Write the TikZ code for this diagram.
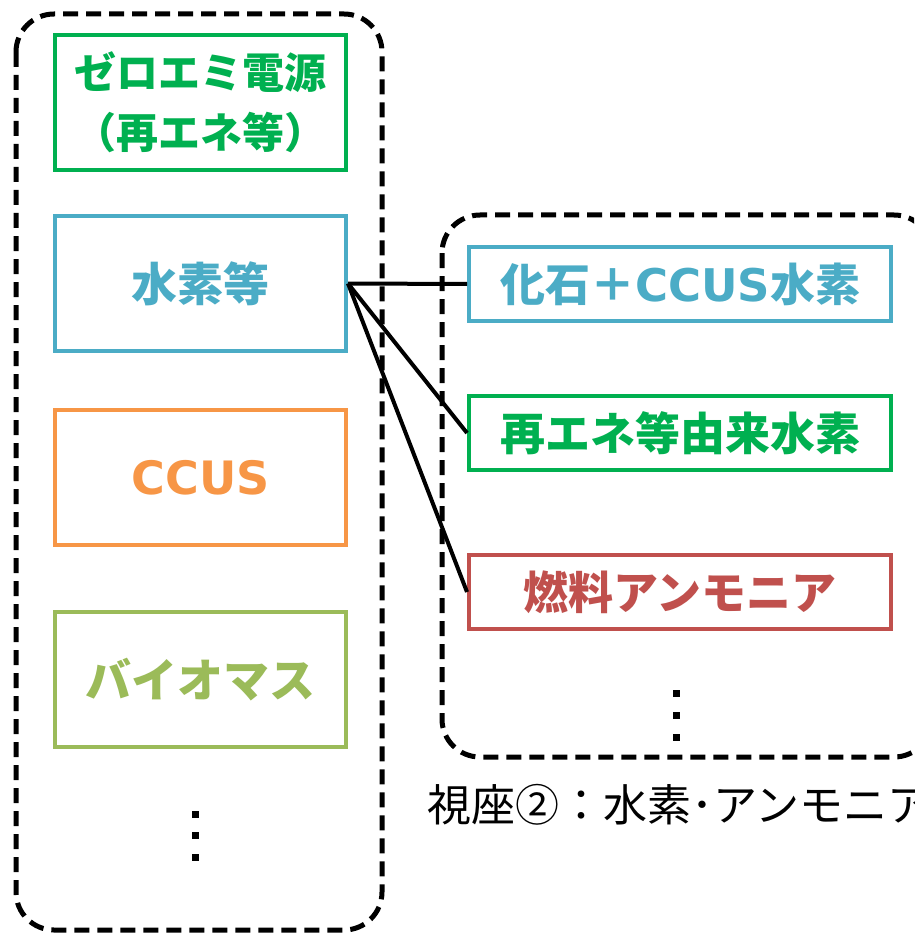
\documentclass[tikz,border=0pt]{standalone}
\usepackage{fontspec}
\newfontfamily\jp{Noto Sans CJK JP}
\newfontfamily\lat{DejaVu Sans}
\definecolor{cgreen}{HTML}{00B050}
\definecolor{cblue}{HTML}{4BACC6}
\definecolor{corange}{HTML}{F79646}
\definecolor{clgreen}{HTML}{9BBB59}
\definecolor{cred}{HTML}{C0504D}
\tikzset{
  group/.style={draw=black, line width=5pt, dash pattern=on 15pt off 8pt, rounded corners=38pt},
  lbox/.style={draw=#1, line width=4pt, fill=white, minimum width=291pt, minimum height=135pt, inner sep=0pt, align=center, text=#1, font=\jp\bfseries\fontsize{46}{60}\selectfont},
  rbox/.style={draw=#1, line width=4pt, fill=white, minimum width=422pt, minimum height=74pt, inner sep=0pt, align=center, text=#1, font=\jp\bfseries\fontsize{45}{60}\selectfont},
  link/.style={draw=black, line width=4pt},
  vdot/.style={fill=black, minimum size=7pt, inner sep=0pt, draw=none, rectangle}
}
\begin{document}
\begin{tikzpicture}[x=1pt,y=-1pt]
\clip (0,0) rectangle (914,933);
\fill[white] (0,0) rectangle (914,933);
% groups
\draw[group] (16,14) rectangle (382,930);
\draw[group] (442,215) rectangle (932,757);
% left boxes
\node[lbox=cgreen, font=\jp\bfseries\fontsize{42}{60}\selectfont] (zero) at (200.5,102.5) {ゼロエミ電源\\（再エネ等）};
\node[lbox=cblue] (h2) at (200.5,283.5) {水素等};
\node[lbox=corange] (ccus) at (200.5,477.5) {{\lat\bfseries CCUS}};
\node[lbox=clgreen] (bio) at (200.5,679.5) {バイオマス};
\node[vdot] (ld1) at (195,814) {};
\node[vdot] (ld2) at (195,835) {};
\node[vdot] (ld3) at (195,857) {};
% right boxes
\node[rbox=cblue] (fossil) at (680,284) {化石＋{\lat\bfseries CCUS}水素};
\node[rbox=cgreen] (renew) at (680,433) {再エネ等由来水素};
\node[rbox=cred] (nh3) at (680,592) {燃料アンモニア};
\node[vdot] (rd1) at (676,693) {};
\node[vdot] (rd2) at (676,715) {};
\node[vdot] (rd3) at (676,737) {};
% connectors
\draw[link] (h2.east) -- (fossil.west);
\draw[link] (h2.east) -- (renew.west);
\draw[link] (h2.east) -- (nh3.west);
% caption
\node[anchor=west, inner sep=0pt, font=\jp\fontsize{44}{50}\selectfont] (cap) at (427,805) {視座②：水素･アンモニア};
\end{tikzpicture}
\end{document}
